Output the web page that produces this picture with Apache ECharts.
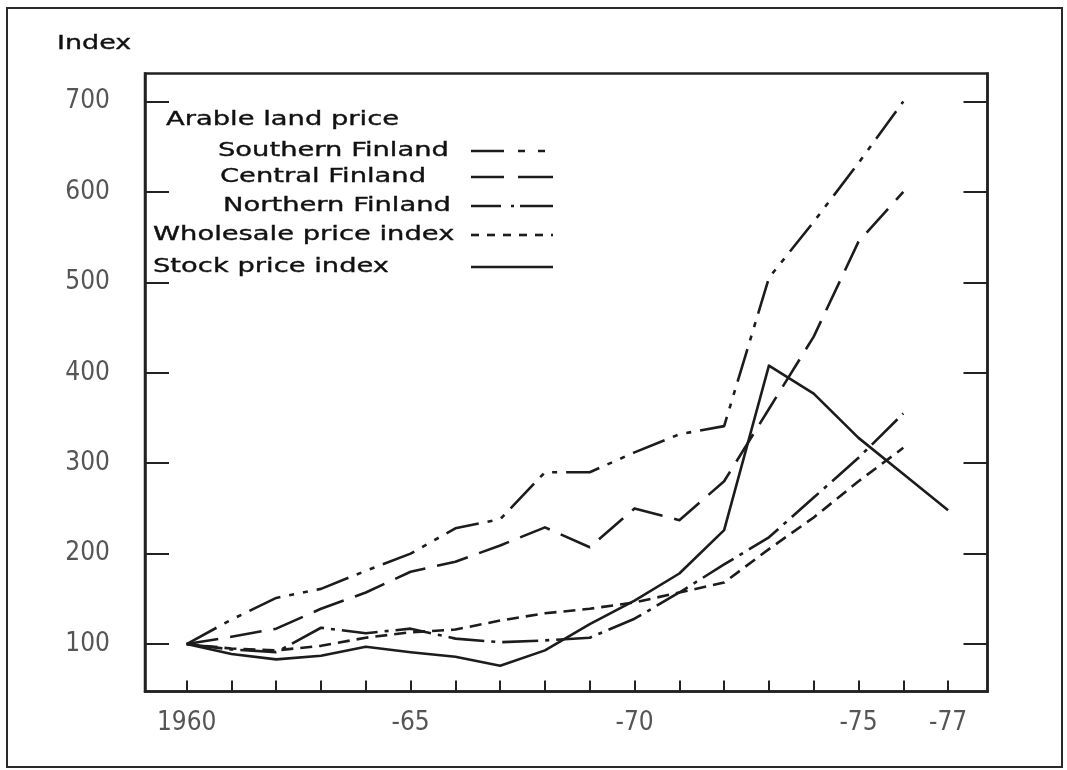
<!DOCTYPE html>
<html>
<head>
<meta charset="utf-8">
<script src="https://cdn.jsdelivr.net/npm/echarts@6/dist/echarts.min.js"></script>
<style>
html,body{margin:0;padding:0;background:#fff;}
#c{width:1067px;height:770px;}
</style>
</head>
<body>
<div id="c"></div>
<script>
// ---- data ----
const years = [1960,1961,1962,1963,1964,1965,1966,1967,1968,1969,1970,1971,1972,1973,1974,1975,1976];
const stockYears = [1960,1961,1962,1963,1964,1965,1966,1967,1968,1969,1970,1971,1972,1973,1974,1975,1976,1977];
const southernFinland = [100,127,151,161,181,200,228,238,290,290,312,332,341,505,567,632,700];
const centralFinland  = [100,108,117,139,157,180,191,209,229,207,250,237,280,360,440,545,600];
const northernFinland = [100,94,91,118,112,117,106,102,104,107,128,157,188,218,262,306,355];
const wholesaleIndex  = [100,95,93,98,107,113,116,126,134,139,146,157,168,205,240,280,317];
const stockIndex      = [100,89,83,87,97,91,86,76,93,122,148,178,226,408,377,328,288,248];

const yTickValues = [100,200,300,400,500,600,700];
const yTickLabels = ['100','200','300','400','500','600','700'];
const xTickYears = [1960,1961,1962,1963,1964,1965,1966,1967,1968,1969,1970,1971,1972,1973,1974,1975,1976,1977];
const xLabelYears = [1960,1965,1970,1975,1977];
const xLabelTexts = ['1960','-65','-70','-75','-77'];

const yAxisTitle = 'Index';
const legendHeader = 'Arable land price';
const seriesNames = ['Southern Finland','Central Finland','Northern Finland','Wholesale price index','Stock price index'];

// ---- styles ----
const INK = '#1c1c1c';
const dashes = {
  southern: [34, 9, 5, 9, 5, 9],
  central: [32, 12],
  northern: [36, 7, 4, 7],
  wholesale: [12, 7],
  stock: 'solid'
};
const legendDashes = [
  [33, 14, 7, 13, 7, 100],
  [33, 14, 40, 100],
  [30, 10, 3, 6, 40, 100],
  [8, 8],
  null
];
const LW = 2.6;
const labelFont = "'Liberation Sans Narrow','DejaVu Sans Condensed','Roboto Condensed',sans-serif";
const textFont = "'DejaVu Sans', 'Liberation Sans', sans-serif";
const TEXT_STRETCH = 1.44;

function pairs(xs, ys){ return xs.map((x,i)=>[x, ys[i]]); }

const chart = echarts.init(document.getElementById('c'), null, {renderer:'canvas'});

function lineSeries(name, data, dash){
  return {
    name, type:'line', data, symbol:'none', showSymbol:false, silent:true,
    lineStyle:{color:INK, width:LW, type:dash, cap:'butt', join:'round'},
    animation:false
  };
}

function label(text, x, y, sx){
  return {type:'text', silent:true, x, y, scaleX: sx || TEXT_STRETCH, scaleY:1,
    style:{text, x:0, y:0, font:'19px ' + textFont, fill:'#111', verticalAlign:'middle',
           stroke:'#111', lineWidth:0.35}};
}

// legend built from graphic primitives (text left, sample line right)
const legendRows = [
  {tx: 218, y: 151},
  {tx: 220, y: 177},
  {tx: 223, y: 206},
  {tx: 153, y: 235},
  {tx: 153, y: 267}
];
const graphics = [
  {type:'rect', silent:true, shape:{x:7,y:8,width:1055,height:759},
   style:{fill:'none', stroke:'#2a2a2a', lineWidth:2}},
  label(yAxisTitle, 57, 44, 1.42),
  label(legendHeader, 166, 120)
];
legendRows.forEach((r, i)=>{
  graphics.push(label(seriesNames[i], r.tx, r.y));
  graphics.push({type:'line', silent:true, shape:{x1:471,y1:r.y,x2:553,y2:r.y},
    style:{stroke:INK, lineWidth:LW, lineDash: legendDashes[i]}});
});

const option = {
  animation:false,
  backgroundColor:'#fff',
  grid:{left:145, right:79.5, top:73.5, bottom:78.5, show:true, borderColor:'#222', borderWidth:2.5, backgroundColor:'transparent'},
  xAxis:{
    type:'value', min:1959.07, max:1977.88,
    axisLine:{show:true, lineStyle:{color:'#222', width:2.5}},
    splitLine:{show:false},
    axisTick:{show:true, inside:true, length:11, customValues:xTickYears, lineStyle:{color:'#222', width:2}},
    axisLabel:{show:true, customValues:xLabelYears, margin:19,
      formatter:(v)=>{const i = xLabelYears.indexOf(Math.round(v)); return i>=0 ? xLabelTexts[i] : '';},
      color:'#555', fontSize:26, fontFamily:labelFont}
  },
  yAxis:[{
    type:'value', min:47.5, max:731,
    axisLine:{show:true, lineStyle:{color:'#222', width:2.5}},
    splitLine:{show:false},
    axisTick:{show:true, inside:true, length:24, customValues:yTickValues, lineStyle:{color:'#222', width:2}},
    axisLabel:{show:true, customValues:yTickValues, margin:35,
      formatter:(v)=>{const i = yTickValues.indexOf(Math.round(v)); return i>=0 ? yTickLabels[i] : '';},
      color:'#555', fontSize:26, fontFamily:labelFont}
  },{
    type:'value', min:47.5, max:731, position:'right',
    axisLine:{show:true, lineStyle:{color:'#222', width:2.5}},
    splitLine:{show:false},
    axisTick:{show:true, inside:true, length:24, customValues:yTickValues, lineStyle:{color:'#222', width:2}},
    axisLabel:{show:false}
  }],
  series:[
    lineSeries(seriesNames[0], pairs(years, southernFinland), dashes.southern),
    lineSeries(seriesNames[1], pairs(years, centralFinland), dashes.central),
    lineSeries(seriesNames[2], pairs(years, northernFinland), dashes.northern),
    lineSeries(seriesNames[3], pairs(years, wholesaleIndex), dashes.wholesale),
    lineSeries(seriesNames[4], pairs(stockYears, stockIndex), 'solid')
  ],
  graphic: graphics
};
chart.setOption(option);
</script>
</body>
</html>
